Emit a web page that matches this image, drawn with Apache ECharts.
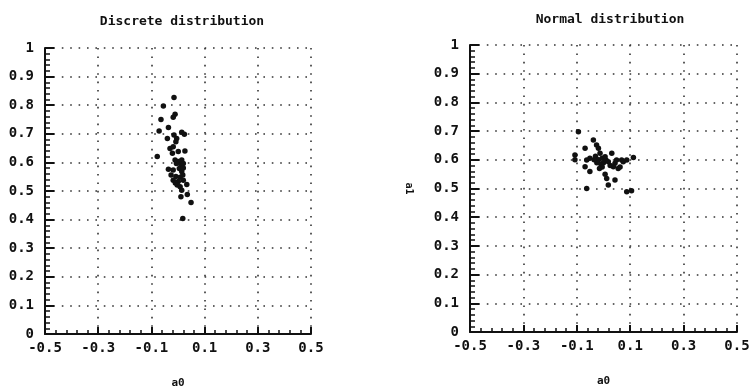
<!DOCTYPE html>
<html><head><meta charset="utf-8">
<script src="https://cdn.jsdelivr.net/npm/echarts@6/dist/echarts.min.js"></script>
<style>html,body{margin:0;padding:0;background:#fff}#c{width:749px;height:389px}</style>
</head><body><div id="c"></div>
<script>
const titles = ['Discrete distribution', 'Normal distribution'];
const xLabelValues = [-0.5, -0.3, -0.1, 0.1, 0.3, 0.5];
const yTickInterval = 0.1;
const discreteA0 = [-0.015,-0.055,-0.011,-0.018,-0.064,-0.071,-0.036,-0.015,-0.005,-0.008,0.014,0.024,-0.040,-0.030,-0.018,0.001,0.026,-0.021,-0.078,-0.011,0.001,0.014,0.011,-0.006,0.020,-0.036,-0.018,0.005,0.014,0.020,-0.026,-0.008,0.008,0.018,-0.018,0.001,0.020,-0.010,-0.003,0.033,0.008,0.014,0.011,0.035,0.049,0.018];
const discreteA1 = [0.827,0.797,0.768,0.758,0.750,0.710,0.722,0.696,0.684,0.672,0.705,0.698,0.684,0.649,0.655,0.638,0.640,0.632,0.621,0.608,0.603,0.608,0.591,0.596,0.596,0.576,0.573,0.579,0.568,0.580,0.556,0.551,0.548,0.556,0.538,0.533,0.538,0.528,0.521,0.523,0.515,0.503,0.480,0.488,0.460,0.404];
const normalA0 = [-0.094,-0.038,-0.026,-0.019,-0.069,-0.107,-0.107,-0.013,-0.030,-0.019,-0.005,0.000,-0.010,0.010,0.006,0.018,-0.025,-0.035,0.031,-0.051,-0.063,0.043,0.049,0.068,0.074,0.087,0.112,0.037,0.055,0.062,-0.069,-0.051,0.006,0.012,0.043,0.018,-0.063,0.087,0.105,-0.005,0.025,-0.015];
const normalA1 = [0.698,0.669,0.652,0.640,0.640,0.617,0.600,0.623,0.612,0.600,0.605,0.590,0.585,0.598,0.611,0.593,0.590,0.600,0.623,0.605,0.599,0.588,0.599,0.599,0.593,0.599,0.608,0.576,0.570,0.575,0.576,0.559,0.550,0.535,0.530,0.512,0.500,0.489,0.492,0.575,0.580,0.570];

const minorX = [];
for (let k = 0; k <= 25; k++) minorX.push(+(-0.5 + 0.04 * k).toFixed(2));

const FONT = 'DejaVu Sans Mono';
const grids = [
  {left: 45, top: 48, width: 266, height: 286, outerBoundsMode: 'none', containLabel: false},
  {left: 470, top: 45, width: 267, height: 287, outerBoundsMode: 'none', containLabel: false}
];
const dotted = {show: true, lineStyle: {color: '#333', width: 1.6, type: [1.6, 6.8]}};

const option = {
  backgroundColor: '#fff',
  animation: false,
  title: [
    {text: titles[0], left: 177, top: 10, textAlign: 'center', textStyle: {fontFamily: FONT, fontSize: 13, fontWeight: 'bold', color: '#111'}},
    {text: titles[1], left: 605, top: 8, textAlign: 'center', textStyle: {fontFamily: FONT, fontSize: 13, fontWeight: 'bold', color: '#111'}}
  ],
  grid: [grids[0], grids[1], grids[0], grids[1]],
  xAxis: [0, 1].map(i => ({
    type: 'value', gridIndex: i, min: -0.5, max: 0.5,
    name: 'a0', nameLocation: 'middle', nameGap: 44,
    nameTextStyle: {fontFamily: FONT, fontSize: 11, fontWeight: 'bold', color: '#111'},
    axisLine: {show: true, onZero: false, lineStyle: {color: '#111', width: 2}},
    axisTick: {show: true, inside: true, length: 7, customValues: xLabelValues, lineStyle: {color: '#111', width: 2}},
    axisLabel: {show: true, customValues: xLabelValues, margin: 7, fontFamily: FONT, fontSize: 14, fontWeight: 'bold', color: '#111', formatter: v => String(+v.toFixed(1))},
    splitLine: dotted
  })).concat([0, 1].map(i => ({
    type: 'value', gridIndex: i + 2, min: -0.5, max: 0.5,
    axisLine: {show: false, onZero: false},
    axisTick: {show: true, inside: true, length: 4, customValues: minorX, lineStyle: {color: '#111', width: 1.5}},
    axisLabel: {show: false}, splitLine: {show: false}
  }))),
  yAxis: [0, 1].map(i => ({
    type: 'value', gridIndex: i, min: 0, max: 1, interval: yTickInterval,
    name: i === 1 ? 'a1' : '', nameLocation: 'middle', nameGap: 56, nameRotate: -90,
    nameTextStyle: {fontFamily: FONT, fontSize: 10, fontWeight: 'bold', color: '#111'},
    axisLine: {show: true, onZero: false, lineStyle: {color: '#111', width: 2}},
    axisTick: {show: true, inside: true, length: 9, lineStyle: {color: '#111', width: 2}},
    minorTick: {show: true, splitNumber: 5, length: 5, lineStyle: {color: '#111', width: 1.5}},
    axisLabel: {show: true, margin: 11, fontFamily: FONT, fontSize: 14, fontWeight: 'bold', color: '#111', formatter: v => String(+v.toFixed(1))},
    splitLine: dotted
  })).concat([0, 1].map(i => ({
    type: 'value', gridIndex: i + 2, min: 0, max: 1, show: false
  }))),
  series: [
    {type: 'scatter', xAxisIndex: 0, yAxisIndex: 0, symbol: 'circle', symbolSize: 5.5,
     itemStyle: {color: '#111', opacity: 1}, data: discreteA0.map((x, j) => [x, discreteA1[j]])},
    {type: 'scatter', xAxisIndex: 1, yAxisIndex: 1, symbol: 'circle', symbolSize: 5.5,
     itemStyle: {color: '#111', opacity: 1}, data: normalA0.map((x, j) => [x, normalA1[j]])}
  ]
};
echarts.init(document.getElementById('c')).setOption(option);
</script></body></html>
